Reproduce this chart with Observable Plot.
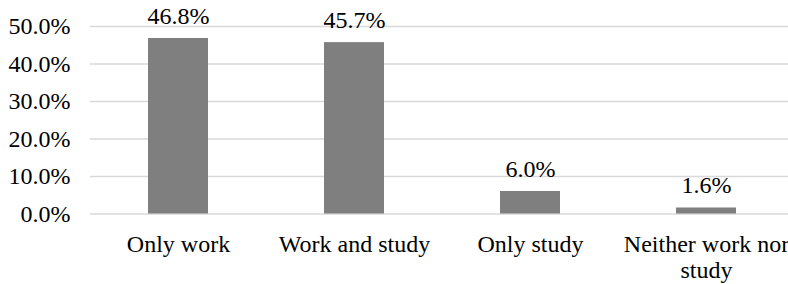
<!DOCTYPE html>
<html>
<head>
<meta charset="utf-8">
<script src="https://cdn.jsdelivr.net/npm/d3@7"></script>
<script src="https://cdn.jsdelivr.net/npm/@observablehq/plot@0.6"></script>
<style>
  html, body { margin: 0; padding: 0; background: #fff; overflow: hidden; }
  #chart svg, #chart svg text, #chart svg tspan { font-family: "Liberation Serif", serif !important; }
</style>
</head>
<body>
<div id="chart"></div>
<script>
const categories = ["Only work", "Work and study", "Only study", "Neither work nor study"];
const tickLabels = ["Only work", "Work and study", "Only study", "Neither work nor\nstudy"];
const values = [46.8, 45.7, 6.0, 1.6];
const yTicks = [0, 10, 20, 30, 40, 50];

const data = categories.map((c, i) => ({category: c, value: values[i]}));
const labelOf = new Map(categories.map((c, i) => [c, tickLabels[i]]));

const chart = Plot.plot({
  width: 788,
  height: 284,
  marginLeft: 90,
  marginRight: 0,
  marginTop: 26,
  marginBottom: 70.5,
  style: {fontFamily: "Liberation Serif, serif", fontSize: "24px", color: "#000", background: "#fff"},
  x: {domain: categories, range: [90, 794], paddingInner: 0.66, paddingOuter: 0.33, align: 0.5},
  y: {domain: [0, 50], ticks: yTicks},
  marks: [
    Plot.gridY(yTicks, {stroke: "#d9d9d9", strokeOpacity: 1, strokeWidth: 1.5}),
    Plot.barY(data, {x: "category", y: "value", fill: "#7f7f7f"}),
    Plot.text(data, {x: "category", y: "value", text: d => d.value.toFixed(1) + "%", lineAnchor: "bottom", dy: -15, fill: "#000", fontSize: 24}),
    Plot.axisY(yTicks, {tickSize: 0, tickPadding: 20, tickFormat: d => d.toFixed(1) + "%", label: null, fill: "#000", fontSize: 24}),
    Plot.axisX({tickSize: 0, tickPadding: 19, tickFormat: d => labelOf.get(d), label: null, lineHeight: 1.1, fill: "#000", fontSize: 24})
  ]
});
document.getElementById("chart").appendChild(chart);
</script>
</body>
</html>
